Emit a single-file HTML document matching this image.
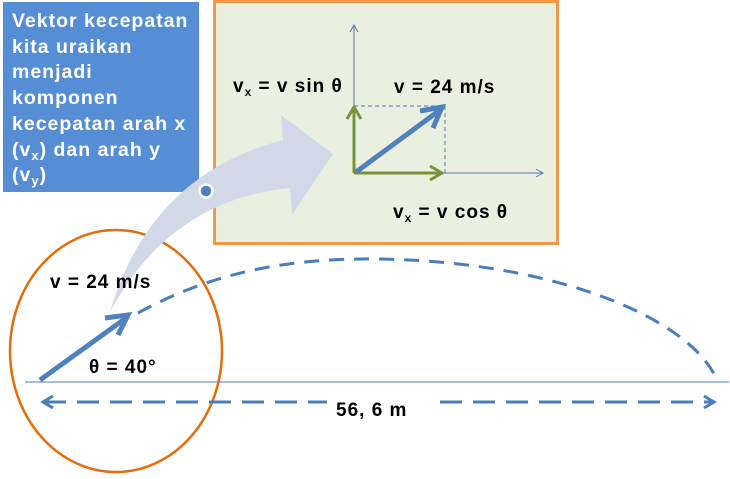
<!DOCTYPE html>
<html><head><meta charset="utf-8"><style>
body{margin:0;width:730px;height:474px;background:#fff;overflow:hidden;font-family:"Liberation Sans",sans-serif}
</style></head><body>
<svg width="730" height="474" viewBox="0 0 730 474" xmlns="http://www.w3.org/2000/svg">
<defs>
<marker id="ob" markerWidth="10" markerHeight="10" refX="7" refY="5" orient="auto" markerUnits="userSpaceOnUse"><path d="M1,1 L8,5 L1,9" fill="none" stroke="#4a7ebb" stroke-width="1"/></marker>
</defs>
<rect x="214.5" y="1.5" width="343" height="242" fill="#ebefdf" stroke="#f79646" stroke-width="3"/>
<rect x="3" y="2" width="196" height="190" fill="#558ed5"/>
<text font-weight="bold" fill="#fff" font-size="19.5" letter-spacing="1">
<tspan x="12" y="27">Vektor kecepatan</tspan>
<tspan x="12" y="53">kita uraikan</tspan>
<tspan x="12" y="78">menjadi</tspan>
<tspan x="12" y="104">komponen</tspan>
<tspan x="12" y="130">kecepatan arah x</tspan>
<tspan x="12" y="156">(v<tspan font-size="13" dy="4">x</tspan><tspan dy="-4">) dan arah y</tspan></tspan>
<tspan x="12" y="181">(v<tspan font-size="13" dy="4">y</tspan><tspan dy="-4">)</tspan></tspan>
</text>
<ellipse cx="116" cy="351" rx="106" ry="121" fill="none" stroke="#e46c0a" stroke-width="2.5"/>
<path d="M110,312 Q150,175 283,140 L281,115 L333,154 L292,215 L290,188 Q170,200 110,312 Z" fill="#d1d9e8"/>
<circle cx="206" cy="191" r="6.5" fill="#4f81bd" stroke="#fff" stroke-width="2.5"/>
<line x1="354" y1="173" x2="354" y2="26" stroke="#4a7ebb" stroke-width="1" marker-end="url(#ob)"/>
<line x1="354" y1="173" x2="542" y2="173" stroke="#4a7ebb" stroke-width="1" marker-end="url(#ob)"/>
<path d="M354,106 H445 V173" fill="none" stroke="#4a7ebb" stroke-width="1" stroke-dasharray="4,3"/>
<line x1="354" y1="173" x2="354" y2="108" stroke="#77933c" stroke-width="3"/>
<path d="M347,119 L354,107 L361,119" fill="none" stroke="#77933c" stroke-width="3"/>
<line x1="354" y1="173" x2="441" y2="173" stroke="#77933c" stroke-width="3"/>
<path d="M430,166 L442,173 L430,180" fill="none" stroke="#77933c" stroke-width="3"/>
<line x1="356" y1="172" x2="440" y2="110" stroke="#4f81bd" stroke-width="5"/>
<path d="M420,111 L442,107 L433,128" fill="none" stroke="#4f81bd" stroke-width="5" stroke-linejoin="miter"/>
<g font-weight="bold" font-size="19" fill="#000" letter-spacing="1">
<text x="233" y="92">v<tspan font-size="12" dy="4">x</tspan><tspan dy="-4"> = v sin θ</tspan></text>
<text x="394" y="93">v = 24 m/s</text>
<text x="393" y="218">v<tspan font-size="12" dy="4">x</tspan><tspan dy="-4"> = v cos θ</tspan></text>
<text x="50" y="288">v = 24 m/s</text>
<text x="89" y="373">θ = 40°</text>
<text x="336" y="416">56, 6 m</text>
</g>
<line x1="25" y1="382" x2="729" y2="382" stroke="#4a7ebb" stroke-width="1"/>
<path d="M138,313 C220,268 300,258 380,259 C560,262 690,320 716,378" fill="none" stroke="#4a7ebb" stroke-width="3" stroke-dasharray="15,10"/>
<line x1="40" y1="380" x2="126" y2="318" stroke="#4f81bd" stroke-width="5"/>
<path d="M105,318 L128,315 L118,335" fill="none" stroke="#4f81bd" stroke-width="5"/>
<line x1="44" y1="402" x2="327" y2="402" stroke="#4a7ebb" stroke-width="3" stroke-dasharray="22,11"/>
<line x1="440" y1="402" x2="712" y2="402" stroke="#4a7ebb" stroke-width="3" stroke-dasharray="22,11"/>
<path d="M53,396 L43,402 L53,408" fill="none" stroke="#4a7ebb" stroke-width="3"/>
<path d="M704,396 L714,402 L704,408" fill="none" stroke="#4a7ebb" stroke-width="3"/>
</svg>
</body></html>
